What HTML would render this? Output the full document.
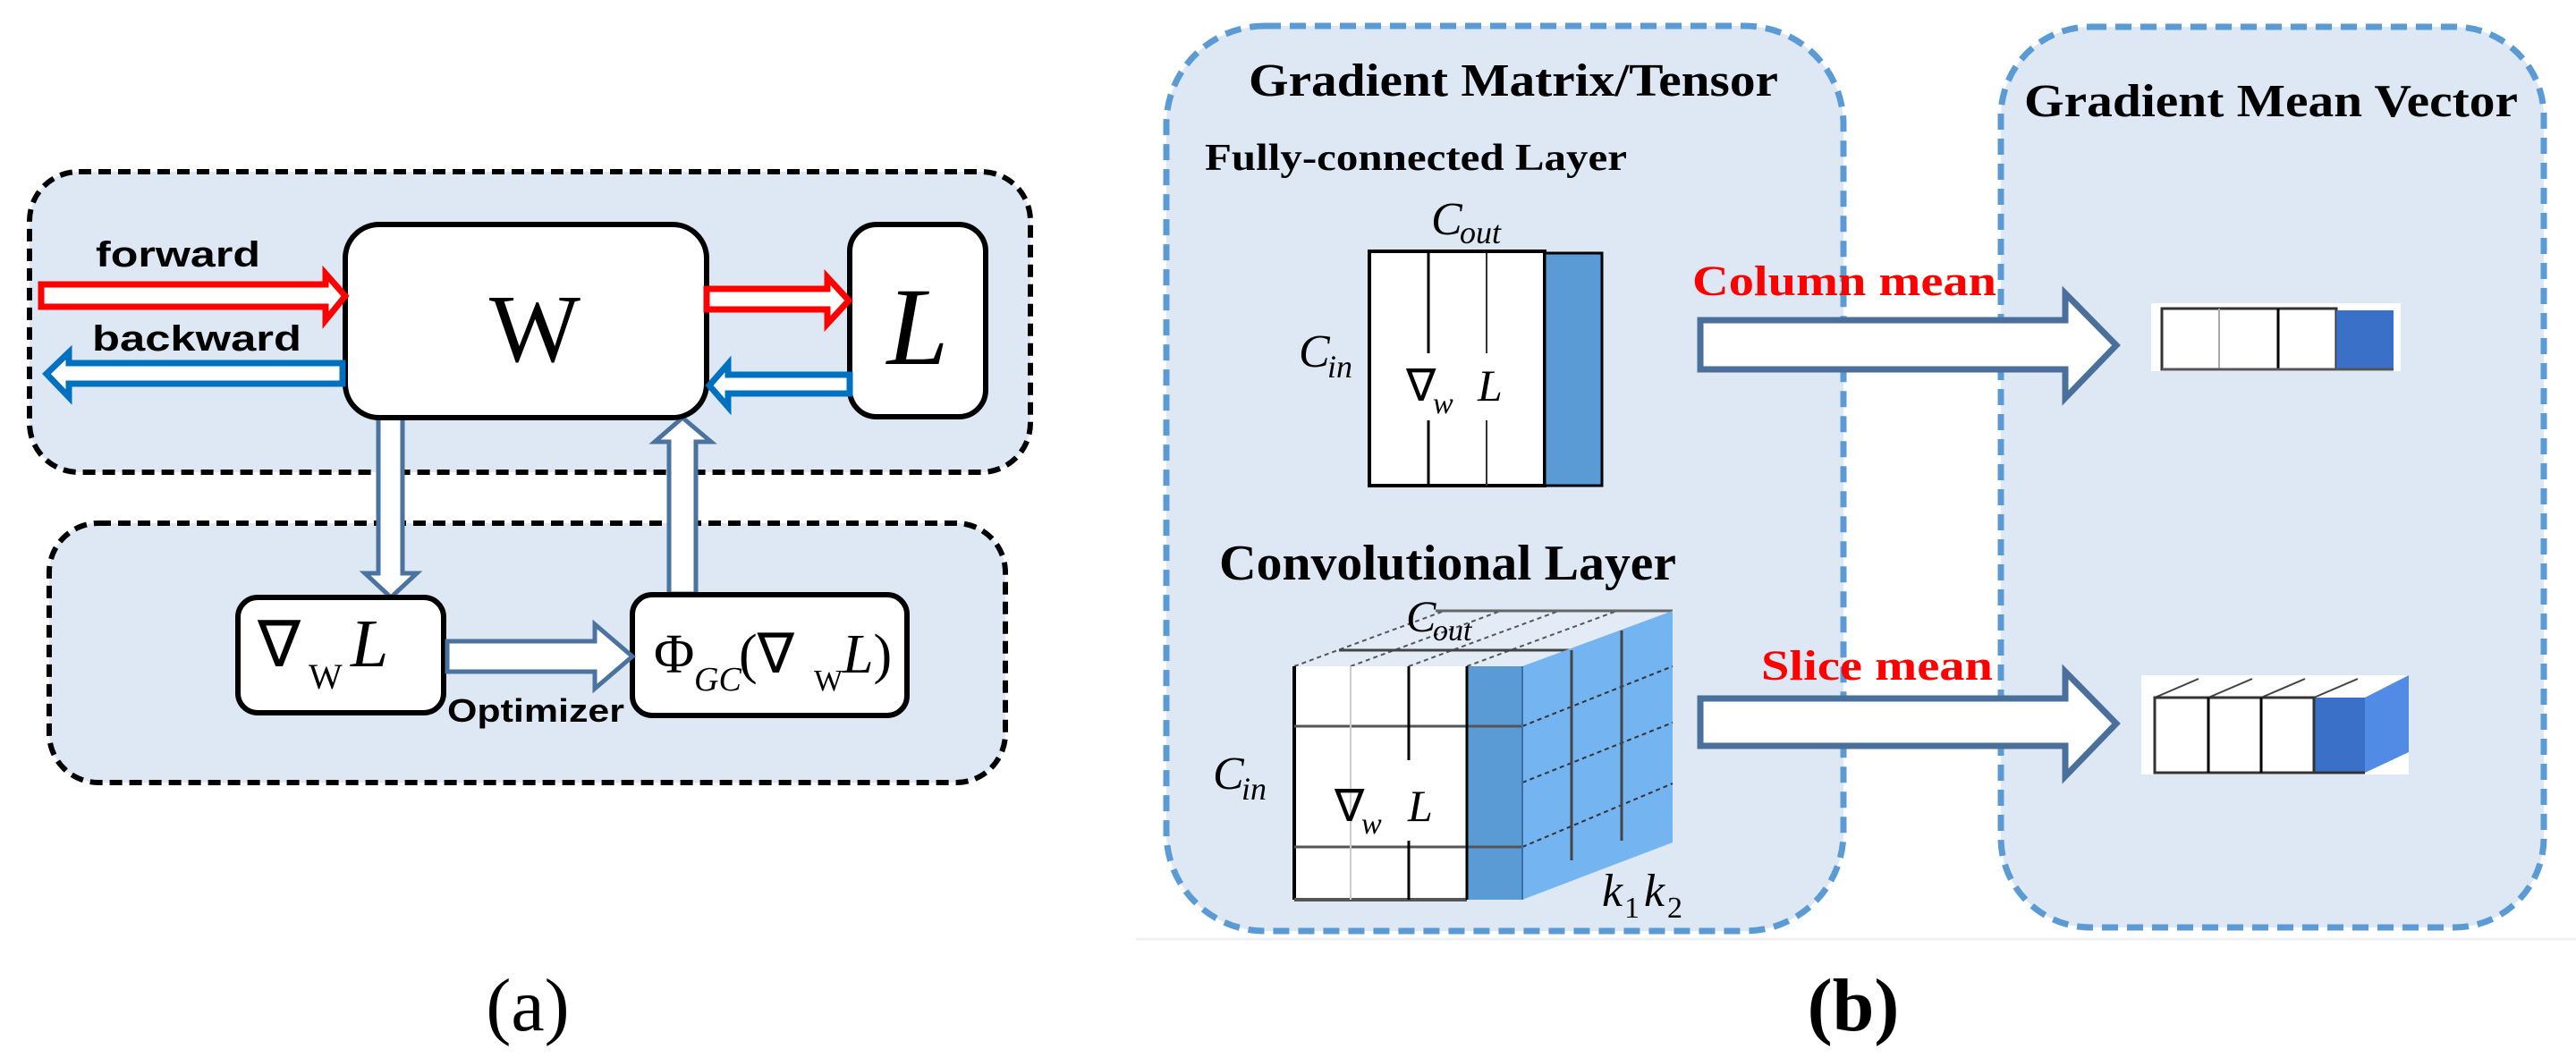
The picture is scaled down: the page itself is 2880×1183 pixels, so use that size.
<!DOCTYPE html>
<html><head><meta charset="utf-8"><style>
html,body{margin:0;padding:0;background:#fff;width:2880px;height:1183px;overflow:hidden}
svg{display:block}
.sans{font-family:"Liberation Sans",sans-serif;font-weight:bold}
.serif{font-family:"Liberation Serif",serif}
</style></head><body>
<svg width="2880" height="1183" viewBox="0 0 2880 1183" xmlns="http://www.w3.org/2000/svg">
<!-- Panel (a) -->
<rect x="33" y="192" width="1119" height="336" rx="55" fill="#dde8f4" stroke="#000" stroke-width="6" stroke-dasharray="14 8"/>
<rect x="55" y="585" width="1069" height="290" rx="55" fill="#dde8f4" stroke="#000" stroke-width="6" stroke-dasharray="14 8"/>

<!-- vertical arrows -->
<polygon points="423,467 450,467 450,641 466,641 437,668 408,641 423,641" fill="#fff" stroke="#4a73a0" stroke-width="5"/>
<polygon points="748,664 778,664 778,494 795,494 763,467 732,494 748,494" fill="#fff" stroke="#4a73a0" stroke-width="5"/>

<rect x="386" y="251" width="404" height="216" rx="38" fill="#fff" stroke="#000" stroke-width="6"/>
<rect x="950" y="251" width="152" height="215" rx="30" fill="#fff" stroke="#000" stroke-width="6"/>
<text x="598" y="404" class="serif" font-size="108" text-anchor="middle">W</text>
<text x="1026" y="407" class="serif" font-style="italic" font-size="124" text-anchor="middle">L</text>

<text x="107" y="298" class="sans" font-size="40" textLength="184" lengthAdjust="spacingAndGlyphs">forward</text>
<text x="103" y="392" class="sans" font-size="40" textLength="234" lengthAdjust="spacingAndGlyphs">backward</text>

<polygon points="46,318 364,318 364,306 386,331 364,358 364,343 46,343" fill="#fff" stroke="#ff0000" stroke-width="7"/>
<polygon points="383,406 77,406 77,394 52,418 77,444 77,429 383,429" fill="#fff" stroke="#0070c0" stroke-width="7"/>
<polygon points="790,323 925,323 925,310 949,336 925,362 925,346 790,346" fill="#fff" stroke="#ff0000" stroke-width="7"/>
<polygon points="950,419 814,419 814,407 793,431 814,455 814,440 950,440" fill="#fff" stroke="#0070c0" stroke-width="7"/>

<rect x="266" y="668" width="230" height="129" rx="22" fill="#fff" stroke="#000" stroke-width="6"/>
<rect x="707" y="665" width="307" height="135" rx="22" fill="#fff" stroke="#000" stroke-width="6"/>
<polygon points="500,717 665,717 665,698 707,734 665,770 665,751 500,751" fill="#fff" stroke="#4a73a0" stroke-width="5"/>
<text x="500" y="807" class="sans" font-size="36" textLength="198" lengthAdjust="spacingAndGlyphs">Optimizer</text>

<text x="288" y="745" class="serif" font-size="72">∇</text>
<text x="345" y="770" class="serif" font-size="40">W</text>
<text x="392" y="745" class="serif" font-style="italic" font-size="76">L</text>

<text x="731" y="752" class="serif" font-size="62">Φ</text>
<text x="776" y="772" class="serif" font-style="italic" font-size="38">GC</text>
<text x="826" y="752" class="serif" font-size="62">(∇</text>
<text x="910" y="772" class="serif" font-size="34">W</text>
<text x="942" y="752" class="serif" font-size="62"><tspan font-style="italic">L</tspan>)</text>

<text x="590" y="1152" class="serif" font-size="84" text-anchor="middle">(a)</text>

<!-- Panel (b) -->
<line x1="1270" y1="1050" x2="2880" y2="1050" stroke="#eef0f3" stroke-width="3"/>
<rect x="1304" y="29" width="757" height="1012" rx="110" fill="#dde8f4" stroke="#5b9bd5" stroke-width="7" stroke-dasharray="18 10"/>
<rect x="2237" y="30" width="607" height="1007" rx="100" fill="#dde8f4" stroke="#5b9bd5" stroke-width="7" stroke-dasharray="18 10"/>

<text x="1396" y="107" class="serif" font-weight="bold" font-size="52" textLength="592" lengthAdjust="spacingAndGlyphs">Gradient Matrix/Tensor</text>
<text x="2263" y="130" class="serif" font-weight="bold" font-size="52" textLength="552" lengthAdjust="spacingAndGlyphs">Gradient Mean Vector</text>
<text x="1347" y="190" class="serif" font-weight="bold" font-size="42" textLength="472" lengthAdjust="spacingAndGlyphs">Fully-connected Layer</text>

<!-- FC matrix -->
<rect x="1531" y="281" width="196" height="262" fill="#fff" stroke="#000" stroke-width="4"/>
<rect x="1727" y="283" width="64" height="260" fill="#5b9bd5" stroke="#000" stroke-width="3"/>
<line x1="1597" y1="283" x2="1597" y2="395" stroke="#000" stroke-width="3"/>
<line x1="1597" y1="470" x2="1597" y2="543" stroke="#000" stroke-width="3"/>
<line x1="1662" y1="283" x2="1662" y2="395" stroke="#333" stroke-width="2"/>
<line x1="1662" y1="470" x2="1662" y2="543" stroke="#333" stroke-width="2"/>
<text x="1600" y="262" class="serif" font-style="italic" font-size="52">C</text>
<text x="1632" y="272" class="serif" font-style="italic" font-size="36">out</text>
<text x="1452" y="410" class="serif" font-style="italic" font-size="52">C</text>
<text x="1484" y="422" class="serif" font-style="italic" font-size="36">in</text>
<text x="1572" y="448" class="serif" font-size="50">∇</text>
<text x="1602" y="462" class="serif" font-style="italic" font-size="34">w</text>
<text x="1652" y="448" class="serif" font-style="italic" font-size="50">L</text>

<!-- arrow 1 -->
<text x="1892" y="330" class="serif" font-weight="bold" font-size="48" fill="#ff0000" textLength="340" lengthAdjust="spacingAndGlyphs">Column mean</text>
<polygon points="1901,358 2309,358 2309,328 2366,386 2309,445 2309,413 1901,413" fill="#fff" stroke="#4a6f9a" stroke-width="7"/>
<!-- vector 1 -->
<rect x="2405" y="339" width="279" height="76" fill="#fff"/>
<rect x="2417" y="345" width="195" height="68" fill="#fff" stroke="#333" stroke-width="3"/>
<line x1="2481" y1="345" x2="2481" y2="413" stroke="#aaa" stroke-width="2"/>
<line x1="2547" y1="345" x2="2547" y2="413" stroke="#000" stroke-width="3"/>
<rect x="2612" y="347" width="64" height="66" fill="#3a70c8"/>
<line x1="2417" y1="413" x2="2676" y2="413" stroke="#555" stroke-width="3"/>

<!-- Convolutional layer -->
<text x="1363" y="648" class="serif" font-weight="bold" font-size="56" textLength="511" lengthAdjust="spacingAndGlyphs">Convolutional Layer</text>
<!-- top face -->
<polygon points="1447,745 1702,745 1870,683 1615,683" fill="#e3ecf6"/>
<g stroke="#555" stroke-width="2" stroke-dasharray="5 4" fill="none">
<line x1="1447" y1="745" x2="1615" y2="683"/>
<line x1="1510" y1="745" x2="1678" y2="683"/>
<line x1="1575" y1="745" x2="1743" y2="683"/>
<line x1="1640" y1="745" x2="1808" y2="683"/>
</g>
<line x1="1497" y1="727" x2="1758" y2="727" stroke="#444" stroke-width="3"/>
<line x1="1605" y1="683" x2="1870" y2="683" stroke="#666" stroke-width="3"/>
<!-- side face -->
<polygon points="1702,745 1870,683 1870,942 1702,1006" fill="#74b4f0"/>
<g stroke="#333" stroke-width="2" stroke-dasharray="5 4">
<line x1="1702" y1="812" x2="1870" y2="745"/>
<line x1="1702" y1="875" x2="1870" y2="808"/>
<line x1="1702" y1="947" x2="1870" y2="876"/>
</g>
<line x1="1757" y1="727" x2="1757" y2="962" stroke="#444" stroke-width="3"/>
<line x1="1813" y1="705" x2="1813" y2="940" stroke="#444" stroke-width="3"/>
<!-- front face -->
<rect x="1447" y="745" width="193" height="261" fill="#fff"/>
<rect x="1640" y="745" width="62" height="261" fill="#5b9bd5"/>
<line x1="1447" y1="745" x2="1447" y2="1006" stroke="#000" stroke-width="4"/>
<line x1="1447" y1="1006" x2="1640" y2="1006" stroke="#555" stroke-width="4"/>
<line x1="1447" y1="812" x2="1702" y2="812" stroke="#555" stroke-width="3"/>
<line x1="1447" y1="947" x2="1702" y2="947" stroke="#555" stroke-width="3"/>
<line x1="1510" y1="745" x2="1510" y2="1006" stroke="#ccc" stroke-width="2"/>
<line x1="1575" y1="745" x2="1575" y2="850" stroke="#000" stroke-width="3"/>
<line x1="1575" y1="940" x2="1575" y2="1006" stroke="#000" stroke-width="3"/>
<line x1="1640" y1="745" x2="1640" y2="1006" stroke="#000" stroke-width="3"/>
<line x1="1702" y1="745" x2="1702" y2="1006" stroke="#3a6fa5" stroke-width="2"/>
<text x="1572" y="706" class="serif" font-style="italic" font-size="50">C</text>
<text x="1602" y="716" class="serif" font-style="italic" font-size="34">out</text>
<text x="1356" y="882" class="serif" font-style="italic" font-size="52">C</text>
<text x="1388" y="894" class="serif" font-style="italic" font-size="36">in</text>
<text x="1492" y="918" class="serif" font-size="50">∇</text>
<text x="1522" y="932" class="serif" font-style="italic" font-size="34">w</text>
<text x="1574" y="918" class="serif" font-style="italic" font-size="50">L</text>
<text x="1791" y="1013" class="serif" font-style="italic" font-size="52">k</text>
<text x="1816" y="1026" class="serif" font-size="34">1</text>
<text x="1838" y="1013" class="serif" font-style="italic" font-size="52">k</text>
<text x="1864" y="1026" class="serif" font-size="34">2</text>

<!-- arrow 2 -->
<text x="1969" y="760" class="serif" font-weight="bold" font-size="48" fill="#ff0000" textLength="259" lengthAdjust="spacingAndGlyphs">Slice mean</text>
<polygon points="1901,781 2309,781 2309,751 2366,809 2309,868 2309,834 1901,834" fill="#fff" stroke="#4a6f9a" stroke-width="7"/>
<!-- vector 2 -->
<rect x="2394" y="755" width="299" height="111" fill="#fff"/>
<polygon points="2409,780 2644,780 2693,755 2458,755" fill="#fff"/>
<g stroke="#444" stroke-width="2"><line x1="2409" y1="780" x2="2458" y2="759"/><line x1="2469" y1="780" x2="2518" y2="759"/><line x1="2528" y1="780" x2="2577" y2="759"/><line x1="2587" y1="780" x2="2636" y2="759"/></g>
<polygon points="2644,780 2693,755 2693,841 2644,864" fill="#528be6"/>
<rect x="2587" y="780" width="57" height="84" fill="#3a70c8"/>
<rect x="2409" y="780" width="178" height="84" fill="#fff" stroke="#333" stroke-width="3"/>
<line x1="2469" y1="780" x2="2469" y2="864" stroke="#000" stroke-width="3"/>
<line x1="2528" y1="780" x2="2528" y2="864" stroke="#000" stroke-width="3"/>
<line x1="2587" y1="864" x2="2644" y2="864" stroke="#333" stroke-width="3"/>

<text x="2072" y="1152" class="serif" font-weight="bold" font-size="84" text-anchor="middle">(b)</text>
</svg>
</body></html>
